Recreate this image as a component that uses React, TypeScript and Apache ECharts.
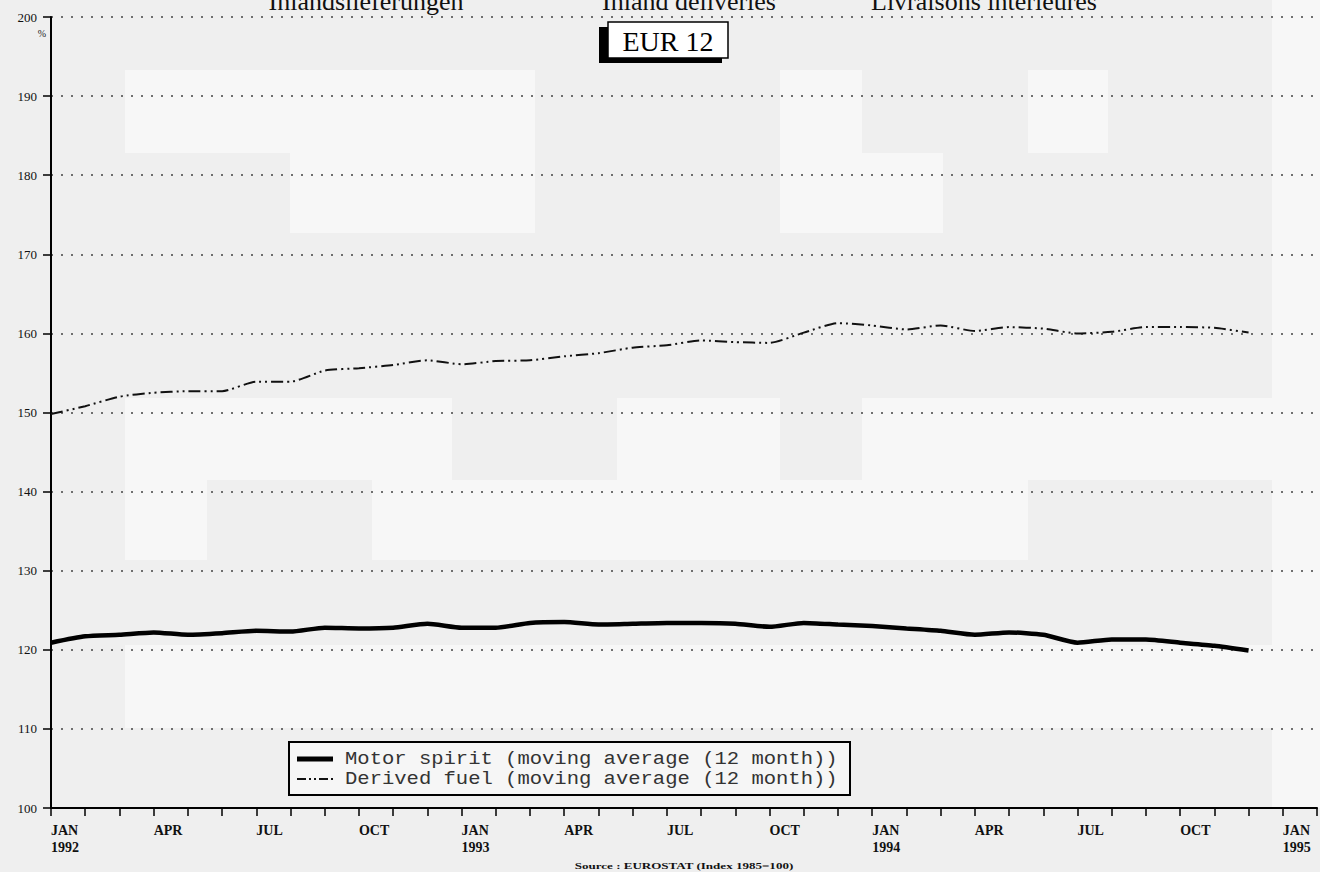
import React, { useEffect, useRef } from "react";
import * as echarts from "echarts";

const MONTHS = ["JAN", "FEB", "MAR", "APR", "MAY", "JUN", "JUL", "AUG", "SEP", "OCT", "NOV", "DEC"];
const YEARS = [1992, 1993, 1994, 1995];
const QUARTER_LABELS = ["APR", "JUL", "OCT"];

// Motor spirit, moving average (12 month), JAN 1992 .. DEC 1994
const MOTOR_SPIRIT = [
  120.9, 121.7, 121.9, 122.2, 121.9, 122.1, 122.4, 122.3, 122.8, 122.7, 122.8, 123.3,
  122.8, 122.8, 123.4, 123.5, 123.2, 123.3, 123.4, 123.4, 123.3, 122.9, 123.4, 123.2,
  123.0, 122.7, 122.4, 121.9, 122.2, 121.9, 120.9, 121.3, 121.3, 120.9, 120.5, 119.9,
];

// Derived fuel, moving average (12 month), JAN 1992 .. DEC 1994
const DERIVED_FUEL = [
  149.8, 150.8, 152.0, 152.5, 152.7, 152.7, 153.9, 153.9, 155.3, 155.6, 156.0, 156.6,
  156.1, 156.5, 156.6, 157.1, 157.5, 158.2, 158.5, 159.1, 158.9, 158.8, 160.1, 161.3,
  161.0, 160.5, 161.0, 160.3, 160.8, 160.6, 160.0, 160.2, 160.8, 160.8, 160.7, 160.1,
];

const SERIES_NAMES = [
  "Motor spirit (moving average (12 month))",
  "Derived fuel (moving average (12 month))",
];

const TITLES = ["Inlandslieferungen", "Inland deliveries", "Livraisons intérieures"];
const BOX_LABEL = "EUR 12";
const UNIT = "%";
const SOURCE = "Source : EUROSTAT (Index 1985=100)";

const Y_MIN = 100;
const Y_MAX = 200;
const Y_STEP = 10;

const CATEGORIES = YEARS.flatMap((y) => MONTHS.map((m) => `${m} ${y}`)).slice(0, 38);

const SERIF = "'Liberation Serif', 'DejaVu Serif', serif";
const MONO = "'Liberation Mono', 'DejaVu Sans Mono', monospace";

const MOTOR_STYLE = { color: "#000", width: 4.5 };
const DERIVED_STYLE = { color: "#111", width: 2, type: [12, 4, 2, 4, 2, 4] };

const PATCH = "#f7f7f7";
const patches: [number, number, number, number][] = [
  [125, 70, 410, 83],
  [290, 153, 245, 80],
  [780, 70, 82, 163],
  [862, 153, 81, 80],
  [1028, 70, 80, 83],
  [1272, 0, 48, 808],
  [125, 398, 327, 82],
  [617, 398, 163, 82],
  [862, 398, 410, 82],
  [125, 480, 82, 80],
  [372, 480, 656, 80],
  [125, 645, 1147, 83],
];

export default function App() {
  const ref = useRef<HTMLDivElement>(null);

  useEffect(() => {
    if (!ref.current) return;
    const chart = echarts.init(ref.current, undefined, { renderer: "svg" });

    const graphics: any[] = patches.map(([x, y, w, h]) => ({
      type: "rect",
      z: -10,
      silent: true,
      shape: { x, y, width: w, height: h },
      style: { fill: PATCH },
    }));

    const titleX = [366, 689, 984];
    TITLES.forEach((t, i) => {
      graphics.push({
        type: "text",
        x: titleX[i],
        y: 1,
        style: {
          text: t,
          font: `26px ${SERIF}`,
          fill: "#111",
          align: "center",
          verticalAlign: "middle",
        },
      });
    });

    graphics.push(
      { type: "rect", shape: { x: 599, y: 27, width: 123, height: 36 }, style: { fill: "#000" } },
      {
        type: "rect",
        shape: { x: 608, y: 22, width: 120, height: 36 },
        style: { fill: "#fff", stroke: "#000", lineWidth: 1.5 },
      },
      {
        type: "text",
        x: 668,
        y: 41,
        style: {
          text: BOX_LABEL,
          font: `28px ${SERIF}`,
          fill: "#000",
          align: "center",
          verticalAlign: "middle",
        },
      },
      {
        type: "text",
        x: 42,
        y: 33,
        style: { text: UNIT, font: `10px ${SERIF}`, fill: "#222", align: "center", verticalAlign: "middle" },
      },
      {
        type: "text",
        x: 684,
        y: 866,
        scaleX: 1.45,
        style: {
          text: SOURCE,
          font: `bold 9px ${SERIF}`,
          fill: "#111",
          align: "center",
          verticalAlign: "middle",
        },
      },
      // legend
      {
        type: "group",
        z: 20,
        children: [
          {
            type: "rect",
            shape: { x: 289, y: 742, width: 561, height: 53 },
            style: { fill: "#f6f6f6", stroke: "#000", lineWidth: 2 },
          },
          {
            type: "line",
            shape: { x1: 297, y1: 759, x2: 333, y2: 759 },
            style: { stroke: MOTOR_STYLE.color, lineWidth: 5 },
          },
          {
            type: "line",
            shape: { x1: 297, y1: 779, x2: 333, y2: 779 },
            style: { stroke: DERIVED_STYLE.color, lineWidth: 2, lineDash: [9, 3, 2, 3, 2, 3] },
          },
          {
            type: "text",
            x: 345,
            y: 759,
            scaleX: 1.11,
            style: {
              text: SERIES_NAMES[0],
              font: `18.5px ${MONO}`,
              fill: "#333",
              verticalAlign: "middle",
            },
          },
          {
            type: "text",
            x: 345,
            y: 779,
            scaleX: 1.11,
            style: {
              text: SERIES_NAMES[1],
              font: `18.5px ${MONO}`,
              fill: "#333",
              verticalAlign: "middle",
            },
          },
        ],
      }
    );

    chart.setOption({
      animation: false,
      backgroundColor: "#efefef",
      grid: { left: 51, right: 0, top: 17, bottom: 64, containLabel: false },
      xAxis: {
        type: "category",
        data: CATEGORIES,
        boundaryGap: false,
        axisLine: { show: true, lineStyle: { color: "#000", width: 2 } },
        axisTick: { show: true, interval: 0, length: 8, lineStyle: { color: "#000", width: 1.5 } },
        axisLabel: {
          interval: 0,
          align: "left",
          margin: 14,
          lineHeight: 17,
          fontFamily: SERIF,
          fontWeight: "bold",
          fontSize: 14,
          color: "#111",
          formatter: (val: string) => {
            const [m, y] = val.split(" ");
            if (m === "JAN") return `JAN\n${y}`;
            if (QUARTER_LABELS.includes(m)) return m;
            return "";
          },
        },
        splitLine: { show: false },
      },
      yAxis: {
        type: "value",
        min: Y_MIN,
        max: Y_MAX,
        interval: Y_STEP,
        axisLine: { show: true, lineStyle: { color: "#000", width: 2 } },
        axisTick: { show: true, length: 8, lineStyle: { color: "#000", width: 1.5 } },
        axisLabel: { fontFamily: SERIF, fontSize: 13, color: "#111", margin: 14 },
        splitLine: { show: true, lineStyle: { color: "#444", width: 1.5, type: [2, 8] } },
      },
      series: [
        {
          name: SERIES_NAMES[0],
          type: "line",
          data: MOTOR_SPIRIT,
          symbol: "none",
          smooth: 0.2,
          lineStyle: MOTOR_STYLE,
          itemStyle: { color: MOTOR_STYLE.color },
          z: 5,
        },
        {
          name: SERIES_NAMES[1],
          type: "line",
          data: DERIVED_FUEL,
          symbol: "none",
          smooth: 0.2,
          lineStyle: DERIVED_STYLE,
          itemStyle: { color: DERIVED_STYLE.color },
          z: 5,
        },
      ],
      graphic: graphics,
    });

    return () => chart.dispose();
  }, []);

  return (
    <div
      ref={ref}
      style={{ position: "fixed", left: 0, top: 0, width: 1320, height: 872 }}
    />
  );
}
